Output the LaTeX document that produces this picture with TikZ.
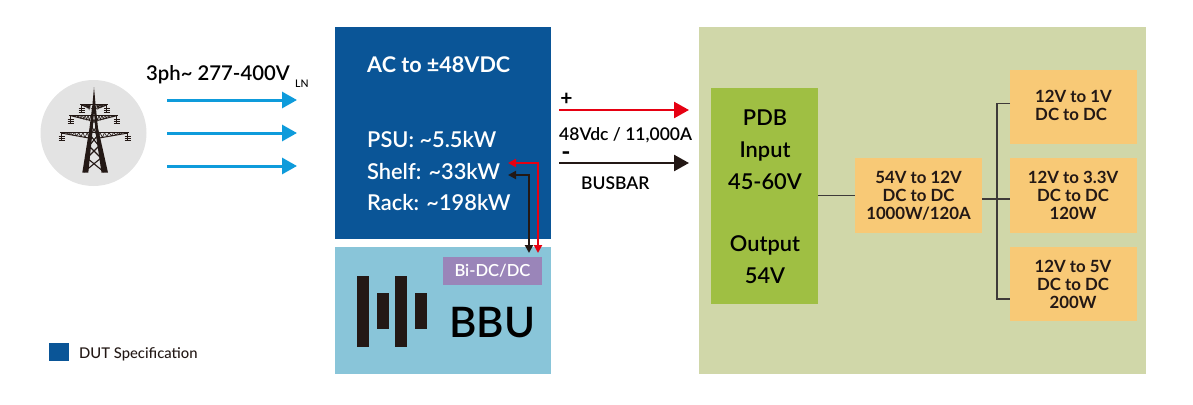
\documentclass[tikz,border=0pt]{standalone}
\usepackage{fontspec}
\setmainfont{Lato Medium}[BoldFont={Lato Bold}]
\newfontfamily\semi{Lato Semibold}
\usetikzlibrary{arrows.meta,calc}
\definecolor{dutblue}{HTML}{0A5597}
\definecolor{bbublue}{HTML}{89C5D9}
\definecolor{bipurple}{HTML}{9A85B9}
\definecolor{panel}{HTML}{D0D7A9}
\definecolor{pdbgreen}{HTML}{9FBF43}
\definecolor{orangebox}{HTML}{F8C976}
\definecolor{ink}{HTML}{231815}
\definecolor{wire}{HTML}{3E3A39}
\definecolor{arrowblue}{HTML}{0E9BDB}
\definecolor{arrowred}{HTML}{E60012}
\definecolor{circ}{HTML}{E3E3E3}
\tikzset{
  x=1pt,y=-1pt,
  box/.style={anchor=north west,inner sep=0pt,outer sep=0pt,minimum width=#1},
  conv/.style={fill=orangebox,inner sep=0pt,outer sep=0pt,minimum width=127pt,minimum height=75pt,align=center,font=\fontsize{16.8}{18}\selectfont\bfseries,text=ink},
  wt/.style={text=white,anchor=base west,inner sep=0pt,font=\fontsize{21.8}{24}\selectfont\semi},
  bk/.style={text=black,inner sep=0pt,font=\fontsize{17.5}{20}\selectfont\semi},
  bar/.style={fill=ink,draw=none},
  bluearrow/.style={draw=arrowblue,line width=3pt,-{Triangle[length=15pt,width=16pt]}},
  bigarrow/.style={line width=2.6pt,-{Triangle[length=15pt,width=16pt]}},
  smallarrow/.style={line width=2.2pt},
  wireline/.style={draw=wire,line width=1.4pt},
  steel/.style={draw=ink,line width=.7pt},
  leg/.style={fill=ink,draw=none},
}
\begin{document}
\begin{tikzpicture}
\useasboundingbox (0,0) rectangle (1193,404);
% blocks
\fill[dutblue] (335,27) rectangle (551,239);
\fill[bbublue] (335,247) rectangle (551,374);
\fill[panel] (699,27) rectangle (1146,374);
\fill[dutblue] (49,343) rectangle (69,361);
\node[anchor=base west,inner sep=0pt,text=ink,font=\fontsize{14.8}{16}\selectfont] (legend) at (79,358) {DUT Specification};
% power source
\fill[circ] (93.5,133) circle (53);
% legs and spire
\fill[leg] (94,87) -- (95.5,104) -- (98,128) -- (108,172.7) -- (101.5,172.7) -- (95.5,132) -- (94,110)
  -- (92.5,132) -- (88.3,172.7) -- (82.3,172.7) -- (89.5,128) -- (92.5,104) -- cycle;
% cross arms as tapered trusses
\foreach \yy/\xa/\xb/\dep in {104.7/80/108.3/3.5,115.3/69/118.3/5,132.7/60/129/5.5}{
  \draw[steel,line width=1.5pt] (\xa,\yy) -- (\xb,\yy);
  \draw[steel,line width=1pt] (\xa+2,\yy+.5) -- (90,\yy+\dep);
  \draw[steel,line width=1pt] (\xb-2,\yy+.5) -- (98,\yy+\dep);
  \foreach \f in {0.15,0.3,...,0.95}{
    \draw[steel,line width=.6pt] ({\xa+2+\f*(88-\xa)},\yy) -- ({\xa+2+(\f+.07)*(88-\xa)},\yy+\dep*\f+.6) -- ({\xa+2+(\f+.15)*(88-\xa)},\yy);
    \draw[steel,line width=.6pt] ({\xb-2-\f*(\xb-99)},\yy) -- ({\xb-2-(\f+.07)*(\xb-99)},\yy+\dep*\f+.6) -- ({\xb-2-(\f+.15)*(\xb-99)},\yy);
  }
  \draw[steel,line width=1.2pt] (\xa+1.5,\yy) -- (\xa+1.5,\yy+8);
  \draw[steel,line width=1.2pt] (\xb-1.5,\yy) -- (\xb-1.5,\yy+8);
  \draw[steel,line width=1pt] (\xa-1.5,\yy+4) -- (\xa+4.5,\yy+4) (\xa-1.5,\yy+6) -- (\xa+4.5,\yy+6) (\xa-1.5,\yy+8) -- (\xa+4.5,\yy+8);
  \draw[steel,line width=1pt] (\xb-4.5,\yy+4) -- (\xb+1.5,\yy+4) (\xb-4.5,\yy+6) -- (\xb+1.5,\yy+6) (\xb-4.5,\yy+8) -- (\xb+1.5,\yy+8);
}
% lattice
\draw[steel,line width=1.1pt] (90,135) -- (99,146) -- (87,158) -- (104,172) (98,135) -- (89,146) -- (101,158) -- (84,172);
\draw[steel] (91.5,108) -- (96.5,117) -- (91,126) -- (97,134) (96.5,108) -- (91.5,117) -- (97,126) -- (91,134);
% input
\coordinate (inA) at (167,100); \coordinate (inAe) at (297,100);
\coordinate (inB) at (167,133); \coordinate (inBe) at (297,133);
\coordinate (inC) at (167,166); \coordinate (inCe) at (297,166);
\draw[bluearrow] (inA) -- (inAe);
\draw[bluearrow] (inB) -- (inBe);
\draw[bluearrow] (inC) -- (inCe);
\node[anchor=base west,inner sep=0pt,text=black,font=\fontsize{20.3}{22}\selectfont\semi] (inlabel) at (146,81) {3ph\textasciitilde{} 277-400V};
\node[anchor=base west,inner sep=0pt,text=black,font=\fontsize{10.5}{11}\selectfont] (lnlabel) at (295,88) {LN};
% DUT text
\node[wt,font=\fontsize{21.6}{24}\selectfont\bfseries] (title) at (367,72) {AC to ±48VDC};
\node[wt] (psu) at (367,147) {PSU: \textasciitilde5.5kW};
\node[wt] (shelf) at (367,179) {Shelf: \textasciitilde33kW};
\node[wt] (rack) at (367,210) {Rack: \textasciitilde198kW};
% BBU
\node[box=99pt,minimum height=28pt,fill=bipurple,text=white,font=\fontsize{16.6}{18}\selectfont\semi] (bidc) at (443,257) {Bi-DC/DC};
\fill[bar] (357,276) rectangle (369,347);
\fill[bar] (377,293) rectangle (389,329);
\fill[bar] (395,276) rectangle (407,347);
\fill[bar] (415,293) rectangle (427,329);
\node[anchor=base west,inner sep=0pt,text=black,font=\fontsize{42}{46}\selectfont\semi] (bbu) at (449,337) {BBU};
% links DUT <-> BBU
\coordinate (redtop) at (538,163); \coordinate (redend) at (508,163); \coordinate (redbot) at (538,253);
\coordinate (blktop) at (529,175); \coordinate (blkend) at (508,175); \coordinate (blkbot) at (529,253);
\draw[smallarrow,draw=ink,{Triangle[length=8pt,width=8pt]}-{Triangle[length=8pt,width=8pt]}] (blkend) -- (blktop) -- (blkbot);
\draw[smallarrow,draw=arrowred,{Triangle[length=8pt,width=8pt]}-{Triangle[length=8pt,width=8pt]}] (redend) -- (redtop) -- (redbot);
% busbar
\coordinate (pa) at (559,110); \coordinate (pb) at (689,110);
\coordinate (ma) at (559,163); \coordinate (mb) at (689,163);
\draw[bigarrow,draw=arrowred] (pa) -- (pb);
\draw[bigarrow,draw=ink] (ma) -- (mb);
\node[bk,anchor=base,font=\fontsize{21}{22}\selectfont\bfseries] (plus) at (566.5,105) {+};
\node[bk,anchor=base,text height=8pt,text depth=0pt,font=\fontsize{15}{16}\selectfont\bfseries] (minus) at (566,160) {\scalebox{1.65}{-}};
\node[bk,anchor=base west] (volt) at (559,140) {48Vdc / 11,000A};
\node[bk,anchor=base west] (busbar) at (581,189) {BUSBAR};
% PDB
\node[box=107pt,minimum height=216pt,fill=pdbgreen] (pdb) at (711,88) {};
\node[inner sep=0pt,text=black,align=center,font=\fontsize{21.8}{32}\selectfont\semi] (pdbin) at (765,150) {PDB\\Input\\45-60V};
\node[inner sep=0pt,text=black,align=center,font=\fontsize{21.8}{32}\selectfont\semi] (pdbout) at (765,260) {Output\\54V};
% converters
\node[conv] (main) at (918.5,195.5) {54V to 12V\\DC to DC\\1000W/120A};
\node[conv,minimum height=74pt] (c1) at (1073,107) {};
\node[inner sep=0pt,align=left,text=ink,font=\fontsize{16.8}{18}\selectfont\bfseries] (c1t) at (1073.5,105) {12V to 1V\\DC to DC};
\node[conv] (c2) at (1073,195.5) {12V to 3.3V\\DC to DC\\120W};
\node[conv,minimum height=74pt] (c3) at (1073,284) {12V to 5V\\DC to DC\\200W};
% wiring
\coordinate (jn) at (997,199);
\draw[wireline] (pdb.east |- main.west) -- (main.west);
\draw[wireline] (main.east |- jn) -- (c2.west |- jn);
\coordinate (t1) at (1010,103.5); \coordinate (t3) at (1010,299);
\draw[wireline] (t1) -- (jn |- t1) -- (jn |- t3) -- (t3);
\end{tikzpicture}
\end{document}
